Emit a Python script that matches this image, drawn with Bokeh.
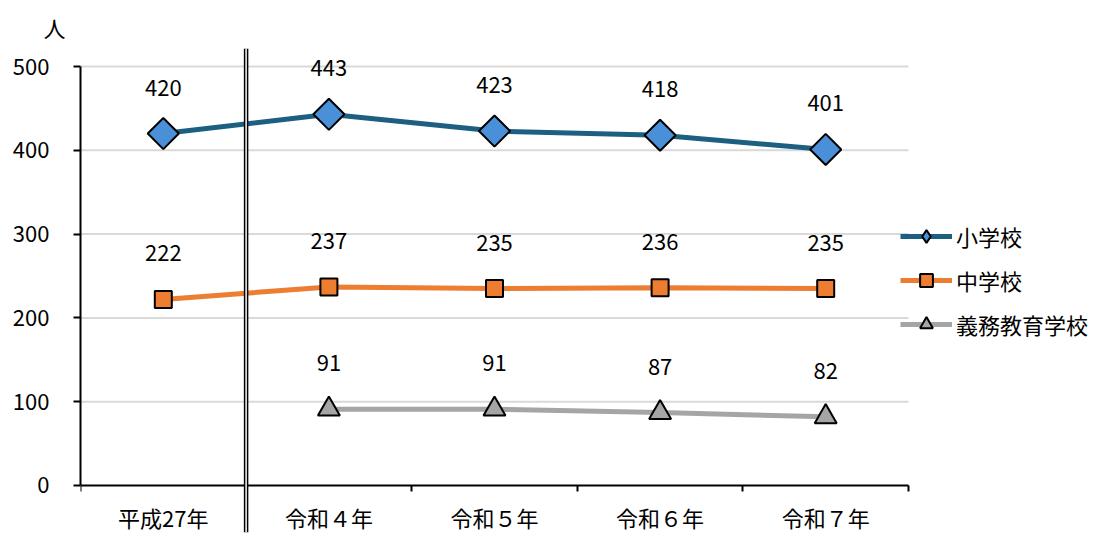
import numpy as np
from bokeh.plotting import figure
from bokeh.models import (Range1d, FixedTicker, Arrow, Legend, LegendItem,
                          ColumnDataSource)
from bokeh.core.properties import value
from bokeh.embed import file_html
from bokeh.resources import INLINE

categories = ["平成27年", "令和４年", "令和５年", "令和６年", "令和７年"]
elementary = [420, 443, 423, 418, 401]
junior = [222, 237, 235, 236, 235]
compulsory = [None, 91, 91, 87, 82]
series_names = ["小学校", "中学校", "義務教育学校"]
y_ticks = [0, 100, 200, 300, 400, 500]
unit_label = "人"

FONT = "Noto Sans CJK JP"
FS = "22px"

n = len(categories)
xpos = [i + 0.5 for i in range(n)]

# frame spans page x 80..1110 and y 48..532; the category axis covers 0..n
x_end = n * 1030 / 828
p = figure(width=1110, height=536, output_backend="svg", toolbar_location=None,
           x_range=Range1d(0, x_end), y_range=Range1d(-56.1, 521.5),
           min_border_left=80, min_border_right=0, min_border_top=48,
           min_border_bottom=4)
p.outline_line_color = None

# title used as unit label
p.title.text = unit_label
p.title.text_font = FONT
p.title.text_font_size = FS
p.title.text_font_style = "normal"
p.title.text_color = "black"
p.title.offset = -37
p.title.standoff = 12

# x axis at y = 0
p.xaxis.fixed_location = 0
p.xaxis.bounds = (0, n)
p.xaxis.ticker = FixedTicker(ticks=xpos, minor_ticks=list(range(n + 1)))
p.xaxis.major_label_overrides = {x: c for x, c in zip(xpos, categories)}
p.xaxis.major_tick_line_color = None
p.xaxis.major_tick_out = 0
p.xaxis.minor_tick_line_color = "black"
p.xaxis.minor_tick_line_width = 2
p.xaxis.minor_tick_out = 6
p.xaxis.minor_tick_in = 0
p.xaxis.axis_line_color = "black"
p.xaxis.axis_line_width = 2
p.xaxis.major_label_text_font = FONT
p.xaxis.major_label_text_font_size = FS
p.xaxis.major_label_text_color = "black"
p.xaxis.major_label_standoff = 10

p.yaxis.bounds = (0, 500)
p.yaxis.ticker = FixedTicker(ticks=y_ticks)
p.yaxis.minor_tick_line_color = None
p.yaxis.major_tick_line_color = "black"
p.yaxis.major_tick_line_width = 2
p.yaxis.major_tick_out = 7
p.yaxis.major_tick_in = 0
p.yaxis.axis_line_color = "black"
p.yaxis.axis_line_width = 2
p.yaxis.major_label_text_font = FONT
p.yaxis.major_label_text_font_size = FS
p.yaxis.major_label_text_color = "black"
p.yaxis.major_label_standoff = 24

p.xgrid.grid_line_color = None
p.ygrid.grid_line_color = None
# horizontal gridlines limited to the category span
gy = y_ticks[1:]
p.segment(x0=[0] * len(gy), x1=[n] * len(gy), y0=gy, y1=gy,
          line_color="#d9d9d9", line_width=2)

styles = [
    dict(line="#1d5f80", fill="#4a90d9", marker="square", size=22, angle=np.pi / 4,
         legend_marker="diamond"),
    dict(line="#ed7d31", fill="#ed7d31", marker="square", size=17, angle=0.0,
         legend_marker="square"),
    dict(line="#a5a5a5", fill="#a5a5a5", marker="triangle", size=22, angle=0.0,
         legend_marker="triangle"),
]

items = []
for name, vals, st in zip(series_names, [elementary, junior, compulsory], styles):
    xs = [x for x, v in zip(xpos, vals) if v is not None]
    ys = [v for v in vals if v is not None]
    src = ColumnDataSource(dict(x=xs, y=ys, t=[str(v) for v in ys]))
    lr = p.line("x", "y", source=src, line_color=st["line"], line_width=5)
    # legend proxy marker (zero size in the chart, hidden under the real marker)
    lg = p.scatter("x", "y", source=src, marker=st["legend_marker"], size=0,
                   fill_color=st["fill"], line_color="black", line_width=2)
    p.scatter("x", "y", source=src, marker=st["marker"], size=st["size"],
              angle=st["angle"], fill_color=st["fill"], line_color="black",
              line_width=2)
    p.text("x", "y", text="t", source=src, text_align="center",
           text_baseline="alphabetic", y_offset=-46, text_font=value(FONT),
           text_font_size=FS, text_color="black")
    items.append(LegendItem(label=name, renderers=[lr, lg]))

# double separator line between first and second categories
p.add_layout(Arrow(x_start=1, y_start=-56.1, x_end=1, y_end=521.5, start=None, end=None,
                   line_color="black", line_width=4.5))
p.add_layout(Arrow(x_start=1, y_start=-56.1, x_end=1, y_end=521.5, start=None, end=None,
                   line_color="white", line_width=1.5))

legend = Legend(items=items, location=(820, 192), orientation="vertical",
                glyph_width=52, glyph_height=32, label_height=32, spacing=12,
                label_standoff=4, padding=0, margin=0,
                label_text_font=FONT, label_text_font_size=FS,
                label_text_color="black", border_line_color=None,
                background_fill_alpha=0)
p.add_layout(legend, "center")

open("out.html", "w").write(file_html(p, INLINE))
